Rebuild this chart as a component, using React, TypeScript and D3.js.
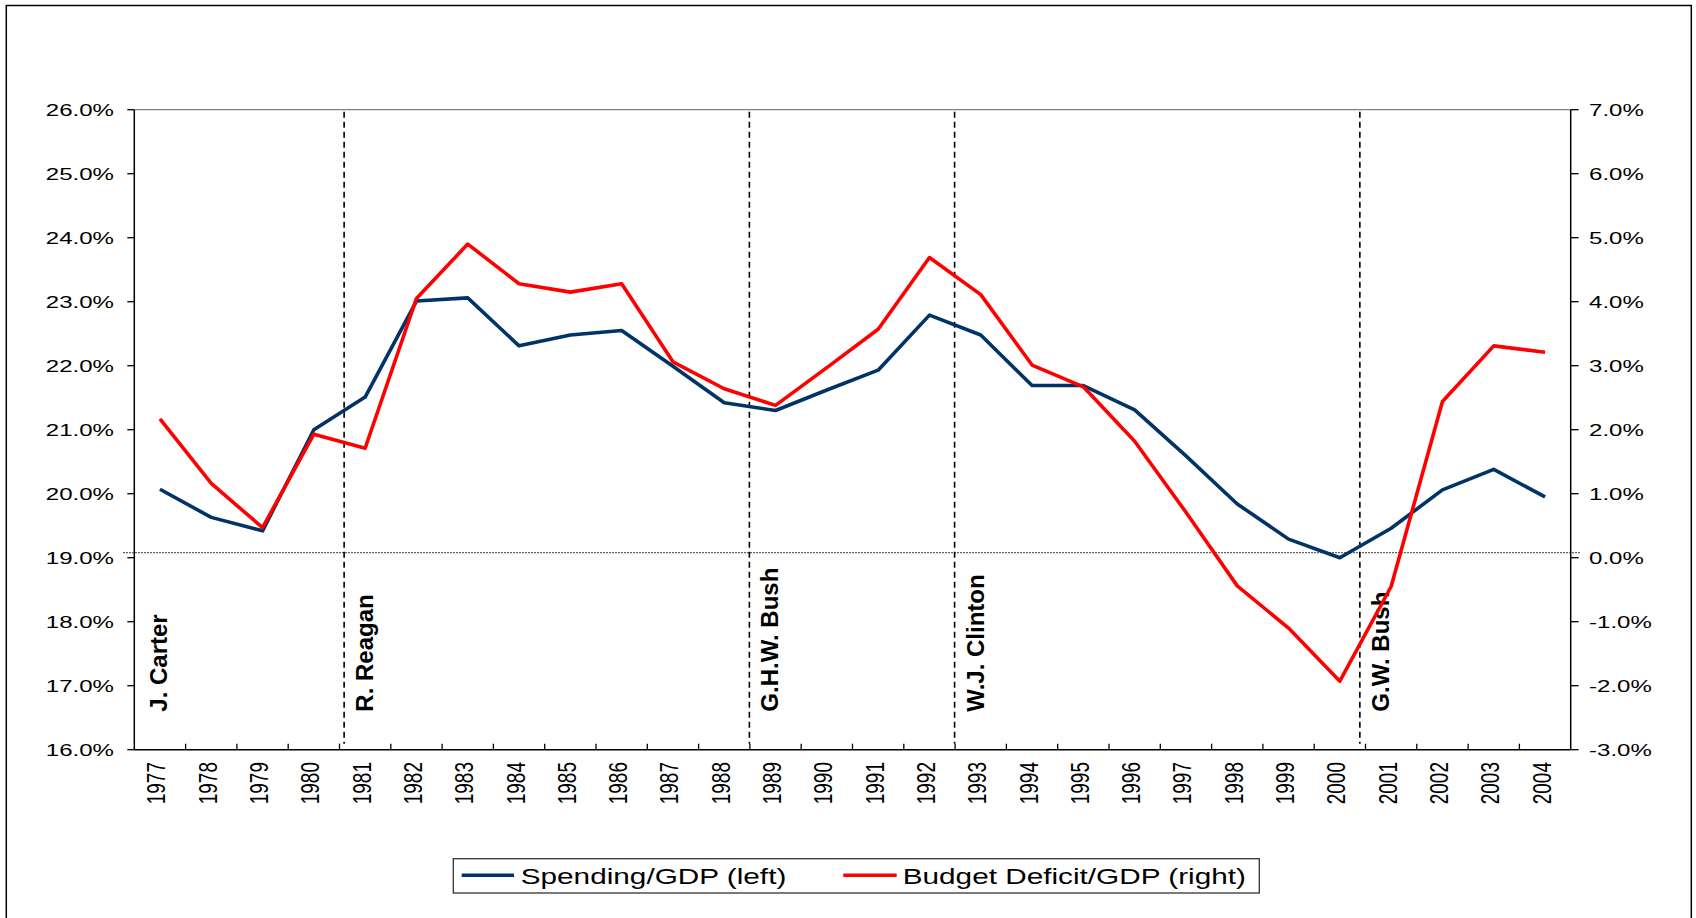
import React, { useEffect } from "react";
import * as d3 from "d3";

const years = ["1977","1978","1979","1980","1981","1982","1983","1984","1985","1986","1987","1988","1989","1990","1991","1992","1993","1994","1995","1996","1997","1998","1999","2000","2001","2002","2003","2004"];
const spending = [20.07,19.63,19.42,21.00,21.51,23.01,23.06,22.31,22.48,22.55,21.99,21.42,21.30,21.62,21.93,22.79,22.48,21.69,21.69,21.31,20.59,19.84,19.29,19.00,19.46,20.06,20.38,19.95];
const deficit = [2.17,1.16,0.47,1.93,1.71,4.05,4.90,4.28,4.15,4.28,3.06,2.64,2.38,2.97,3.57,4.69,4.11,3.01,2.67,1.82,0.71,-0.44,-1.10,-1.93,-0.45,2.44,3.31,3.21];
const leftTicks = [16,17,18,19,20,21,22,23,24,25,26];
const rightTicks = [-3,-2,-1,0,1,2,3,4,5,6,7];
const presidents = ["J. Carter","R. Reagan","G.H.W. Bush","W.J. Clinton","G.W. Bush"];
const presidentStart = [1976.57,1980.59,1988.49,1992.49,2000.39];
const presidentLine = [false,true,true,true,true];
const zeroRef = 0.08;
const seriesNames = ["Spending/GDP (left)","Budget Deficit/GDP (right)"];
const seriesColors = ["#003366","#ff0000"];

const W = 1696, H = 918;
const L = 134.3, R = 1570.7, T = 109.7, B = 749.7;
const FONT = "'Liberation Sans', Arial, sans-serif";

export default function App() {
  useEffect(() => { document.body.style.margin = "0"; }, []);
  const xBand = d3.scaleBand<string>().domain(years).range([L, R]).padding(0);
  const xLin = d3.scaleLinear().domain([1976.5, 2004.5]).range([L, R]);
  const yL = d3.scaleLinear().domain([16, 26]).range([B, T]);
  const yR = d3.scaleLinear().domain([-3, 7]).range([B, T]);
  const cx = (i: number) => (xBand(years[i]) as number) + xBand.bandwidth() / 2;
  const lineL = d3.line<number>().x((_, i) => cx(i)).y((d) => yL(d));
  const lineR = d3.line<number>().x((_, i) => cx(i)).y((d) => yR(d));
  const sx = 1.39;
  const boundaries = years.slice(1).map((y) => xBand(y) as number);

  return (
    <svg width={W} height={H} style={{ position: "absolute", left: 0, top: 0, background: "#fff" }} fontFamily={FONT}>
      <rect x={0} y={0} width={W} height={H} fill="#fff" />
      <rect x={6.3} y={5.5} width={1685} height={940} fill="none" stroke="#000" strokeWidth={1.5} />
      {/* plot top border */}
      <line x1={L} x2={R} y1={T} y2={T} stroke="#808080" strokeWidth={1.2} />
      {/* dotted zero reference */}
      <line x1={L - 11} x2={R + 9} y1={yR(zeroRef)} y2={yR(zeroRef)} stroke="#222" strokeWidth={1.4} strokeDasharray="1.4,1.6" />
      {/* president dashed lines */}
      {presidentStart.map((p, i) => presidentLine[i] ? (
        <line key={"pl" + i} x1={xLin(p)} x2={xLin(p)} y1={T + 2} y2={B - 6} stroke="#000" strokeWidth={1.6} strokeDasharray="6,4" />
      ) : null)}
      {presidents.map((n, i) => (
        <text key={"pn" + i} transform={`translate(${xLin(presidentStart[i]) + 29},${B - 38}) rotate(-90)`} fontSize={24} fontWeight="bold" fill="#000">{n}</text>
      ))}
      {/* series */}
      <path d={lineL(spending) || ""} fill="none" stroke={seriesColors[0]} strokeWidth={3.6} strokeLinejoin="round" />
      <path d={lineR(deficit) || ""} fill="none" stroke={seriesColors[1]} strokeWidth={3.6} strokeLinejoin="round" />
      {/* axes */}
      <line x1={L} x2={L} y1={T} y2={B} stroke="#000" strokeWidth={1.5} />
      <line x1={R} x2={R} y1={T} y2={B} stroke="#000" strokeWidth={1.5} />
      <line x1={L} x2={R} y1={B} y2={B} stroke="#000" strokeWidth={1.5} />
      {leftTicks.map((t) => (
        <g key={"lt" + t}>
          <line x1={L - 7} x2={L} y1={yL(t)} y2={yL(t)} stroke="#000" strokeWidth={1.3} />
          <text transform={`translate(114,${yL(t)}) scale(1.4,1)`} textAnchor="end" dominantBaseline="central" fontSize={17.2} fill="#000">{t.toFixed(1) + "%"}</text>
        </g>
      ))}
      {rightTicks.map((t) => (
        <g key={"rt" + t}>
          <line x1={R} x2={R + 8} y1={yR(t)} y2={yR(t)} stroke="#000" strokeWidth={1.3} />
          <text transform={`translate(1589,${yR(t)}) scale(1.4,1)`} textAnchor="start" dominantBaseline="central" fontSize={17.2} fill="#000">{t.toFixed(1) + "%"}</text>
        </g>
      ))}
      {boundaries.map((b, i) => (
        <line key={"xt" + i} x1={b} x2={b} y1={B - 6} y2={B} stroke="#000" strokeWidth={1.3} />
      ))}
      {years.map((y, i) => (
        <text key={"yl" + y} transform={`translate(${cx(i) + 5.5},762) scale(1.32,1) rotate(-90)`} textAnchor="end" fontSize={19} fill="#000">{y}</text>
      ))}
      {/* legend */}
      <rect x={453.3} y={858.7} width={806} height={34.3} fill="#fff" stroke="#333" strokeWidth={1.3} />
      <line x1={461.7} x2={514} y1={875.3} y2={875.3} stroke={seriesColors[0]} strokeWidth={3.6} />
      <text transform={`translate(520.7,884) scale(${sx},1)`} fontSize={21.4} fill="#000">{seriesNames[0]}</text>
      <line x1={843.3} x2={896.7} y1={875.3} y2={875.3} stroke={seriesColors[1]} strokeWidth={3.6} />
      <text transform={`translate(902.7,884) scale(${sx},1)`} fontSize={21.4} fill="#000">{seriesNames[1]}</text>
    </svg>
  );
}
